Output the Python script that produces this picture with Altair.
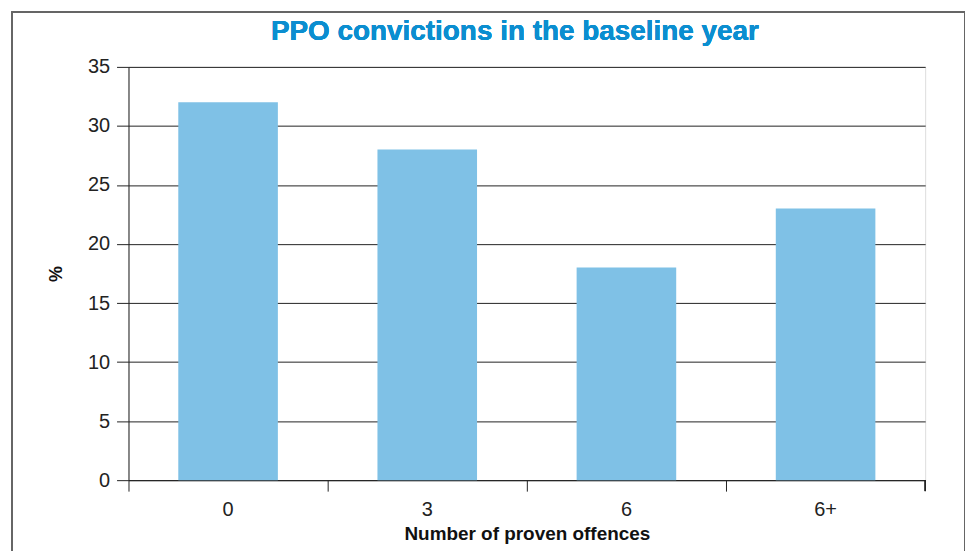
import altair as alt
import pandas as pd

categories = ["0", "3", "6", "6+"]
values = [32, 28, 18, 23]

df = pd.DataFrame({"cat": categories, "pct": values})

W, H = 800, 415

bars = alt.Chart(df).mark_bar(color="#7fc1e6").encode(
    x=alt.X("cat:N", sort=categories,
            scale=alt.Scale(paddingInner=0.5, paddingOuter=0.25),
            axis=alt.Axis(title="Number of proven offences", labelAngle=0,
                          bandPosition=-0.5, tickSize=11, labelPadding=8,
                          labelFontSize=20, labelColor="#222", labelFont="Liberation Sans",
                          titleFontSize=19, titleFont="Liberation Sans", titleFontWeight="bold",
                          titleColor="#111", titlePadding=6,
                          domainColor="#222", tickColor="#222", grid=False)),
    y=alt.Y("pct:Q", scale=alt.Scale(domain=[0, 35]),
            axis=alt.Axis(title="%", values=[0, 5, 10, 15, 20, 25, 30, 35],
                          tickSize=12, labelPadding=7, labelFontSize=20, labelColor="#222",
                          labelFont="Liberation Sans", titleFontSize=18, titleFont="Liberation Sans",
                          titleFontWeight="bold", titleColor="#111", titlePadding=22,
                          domainColor="#222", tickColor="#222",
                          grid=True, gridColor="#222", gridWidth=1)),
)

end_tick = alt.Chart(df).mark_rule(color="#222", strokeWidth=1).encode(
    x=alt.value(W), y=alt.value(H), y2=alt.value(H + 11)
)

frame = alt.Chart(df).mark_rect(fill=None, stroke="#666", strokeWidth=1.5, clip=False).encode(
    x=alt.value(-117), x2=alt.value(W + 40), y=alt.value(-55), y2=alt.value(H + 200)
)

title = alt.Chart(df).mark_text(text="PPO convictions in the baseline year",
                                font="Liberation Sans", fontSize=28, fontWeight="bold",
                                color="#0b8ed0", baseline="middle", align="center").encode(
    x=alt.value(388), y=alt.value(-35)
)

chart = alt.layer(frame, bars, end_tick, title).properties(
    width=W, height=H,
    padding={"left": 121, "top": 58, "right": 40, "bottom": 70},
    autosize="none",
).configure_view(stroke="#222", strokeWidth=1).configure(background="white")

chart.save("out.html", embed_options={"renderer": "svg", "actions": False})
